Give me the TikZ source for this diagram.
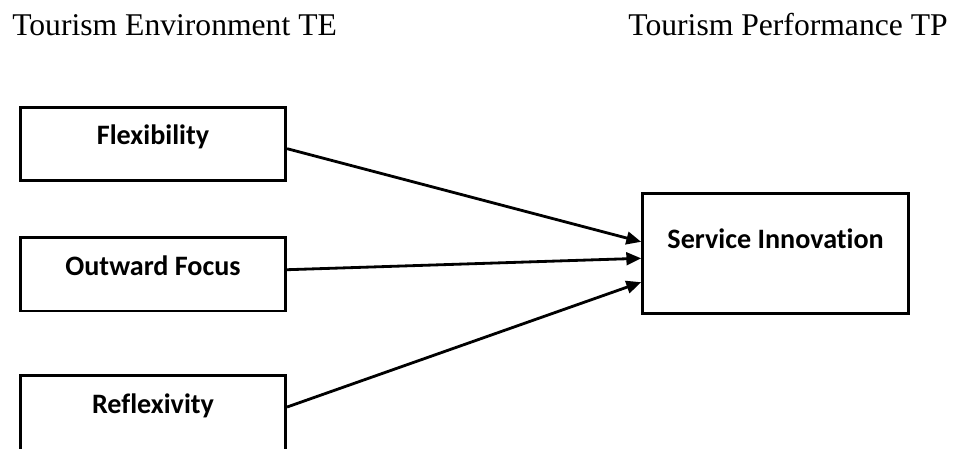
\documentclass[tikz,border=0pt]{standalone}
\usepackage{fontspec}
\setmainfont{Liberation Serif}
\newfontfamily\boxfont[Ligatures=NoCommon]{Carlito}
\usepackage{tikz}
\usetikzlibrary{arrows.meta, positioning, calc}
\tikzstyle{heading} = [inner sep=0pt, font=\fontsize{22.5}{27}\selectfont]
\tikzstyle{factor} = [rectangle, draw, line width=2.1pt, minimum width=6.63cm, minimum height=1.83cm, inner sep=0pt, text height=0.3cm, text depth=0.25cm, font=\boxfont\bfseries\fontsize{20}{24}\selectfont]
\tikzstyle{outcome} = [factor, minimum width=6.65cm, minimum height=3cm, text depth=0.575cm]
\tikzstyle{effect} = [-{Triangle[length=10.5pt, width=9pt]}, line width=2pt]

\begin{document}
\begin{tikzpicture}
    \path[use as bounding box, clip] (0,0) rectangle (23.85,11.2);

    % Column headings
    \node[heading, anchor=base west] (te) at (0.3,10.3) {Tourism Environment TE};
    \node[heading, anchor=base east] (tp) at (23.7,10.3) {Tourism Performance TP};

    % Environment factors
    \node[factor] (flex) at (3.825,7.6) {Flexibility};
    \node[factor] (outw) at (3.825,4.34) {Outward Focus};
    \node[factor, minimum height=2.05cm, text depth=0.45cm] (refl) at (3.825,0.79) {Reflexivity}; % runs off the page

    % Performance
    \node[outcome] (si) at (19.39,4.86) {Service Innovation};

    % Effects on service innovation
    \draw[effect] (flex.-2) -- (si.175);
    \draw[effect] (outw.2) -- (si.182);
    \draw[effect] (refl.4) -- (si.192);
\end{tikzpicture}
\end{document}
